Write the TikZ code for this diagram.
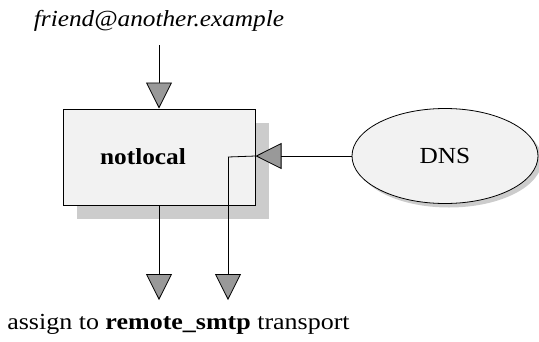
\documentclass[tikz,border=0pt]{standalone}
\usepackage{fontspec}
\usepackage{graphicx}
\setmainfont{Liberation Serif}
\usetikzlibrary{arrows.meta,shapes.geometric}
\definecolor{boxfill}{HTML}{F2F2F2}
\definecolor{shadowgray}{HTML}{CCCCCC}
\definecolor{tipgray}{HTML}{999999}
\newcommand{\widetext}[1]{\scalebox{1.1}[1]{#1}}
\tikzset{
  flow/.style={draw=black, line width=0.8pt,
    -{Triangle[length=26pt,width=26pt,fill=tipgray,line width=0.8pt]}},
  plainline/.style={draw=black, line width=0.8pt},
  label text/.style={font=\fontsize{23}{27}\selectfont, inner sep=0pt},
  routerbox/.style={draw=black, line width=1pt, fill=boxfill,
    minimum width=192pt, minimum height=96pt, inner sep=0pt},
  boxshadow/.style={fill=shadowgray, draw=none,
    minimum width=192pt, minimum height=96pt, inner sep=0pt},
  lookup/.style={ellipse, draw=black, line width=0.8pt, fill=boxfill,
    minimum width=186pt, minimum height=95pt, inner sep=0pt},
  lookupshadow/.style={ellipse, fill=shadowgray, draw=none,
    minimum width=186pt, minimum height=95pt, inner sep=0pt},
}
\begin{document}
\begin{tikzpicture}[x=1pt,y=-1pt]
  \useasboundingbox (0,0) rectangle (539,341);

  % incoming address
  \node[label text] (addr) at (159,21) {\widetext{\itshape friend@another.example}};
  \coordinate (addrfoot) at (159,45);

  % router box with its drop shadow
  \node[boxshadow] (nlshadow) at (172.5,170.5) {};
  \node[routerbox] (nl) at (159,157) {};
  \node[label text] (nltext) at (143,157) {\widetext{\bfseries notlocal}};

  % DNS lookup
  \node[lookupshadow] (dnsshadow) at (449,160) {};
  \node[lookup] (dns) at (445,156) {\widetext{\fontsize{23}{27}\selectfont DNS}};

  % result
  \node[label text] (result) at (178.5,324)
    {\scalebox{1.13}[1]{assign to \textbf{remote\_smtp} transport}};

  \coordinate (dnsin) at (nl.east |- dns.west);
  \coordinate (bend) at (228,157);
  \coordinate (outa) at (159,300);
  \coordinate (outb) at (228,300);

  % connectors
  \draw[flow] (addrfoot) -- (nl.north);
  \draw[flow] (dns.west) -- (dnsin);
  \draw[plainline] (dnsin) -- (bend);
  \draw[flow] (bend) -- (outb);
  \draw[flow] (nl.south) -- (outa);
\end{tikzpicture}
\end{document}
